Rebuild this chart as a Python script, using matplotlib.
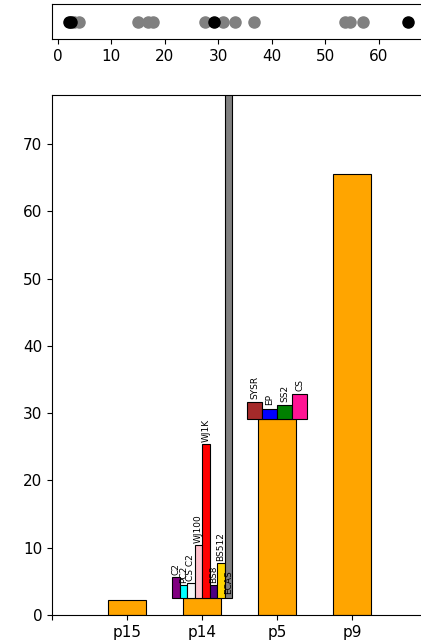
import numpy as np
import matplotlib
matplotlib.use("Agg")
import matplotlib.pyplot as plt

# main bars
categories = ['', 'p15', 'p14', 'p5', 'p9']
main_values = [2.2, 2.5, 29.1, 65.5]

# sub bars on top of p14
p14_labels = ['C2', 'PC2', 'CS C2', 'WJ100', 'WJ1K', 'BS8', 'BS512', 'ECAS']
p14_values = [3.1, 2.0, 2.3, 7.9, 22.9, 2.0, 5.2, 100.0]
p14_colors = ['purple', 'cyan', 'whitesmoke', 'pink', 'red', 'indigo', 'gold', 'gray']

# sub bars on top of p5
p5_labels = ['SYSR', 'EP', 'SS2', 'CS']
p5_values = [2.5, 1.6, 2.1, 3.7]
p5_colors = ['brown', 'blue', 'green', 'deeppink']

# strip values
gray_pts = [3.0, 4.0, 15.0, 16.9, 17.8, 27.5, 30.9, 33.1, 36.7, 53.7, 54.6, 57.0]
black_pts = [2.2, 2.5, 29.1, 65.5]

fig = plt.figure(figsize=(4.21, 6.42), dpi=100)

# strip on top
ax0 = fig.add_axes([0.1235, 0.939, 0.891, 0.0545])
ax0.scatter(gray_pts, np.zeros(len(gray_pts)), s=64, color='gray', zorder=2)
ax0.scatter(black_pts, np.zeros(len(black_pts)), s=64, color='black', zorder=3)
ax0.set_xlim(-1.07, 69.0)
ax0.set_ylim(-1, 1)
ax0.set_yticks([])
ax0.tick_params(axis='x', labelsize=11)

# main axes
ax = fig.add_axes([0.1235, 0.042, 0.891, 0.81])
pos = np.arange(1, 5)
ax.bar(pos, main_values, 0.5, color='orange', edgecolor='black', linewidth=0.8)

w14 = 0.1
x14 = 2 - 0.4 + w14 / 2 + np.arange(len(p14_values)) * w14
base14 = main_values[1]
ax.bar(x14, p14_values, w14, bottom=base14, color=p14_colors,
       edgecolor='black', linewidth=0.8)
for i, (xx, v, lab) in enumerate(zip(x14, p14_values, p14_labels)):
    y = base14 + v + 0.3
    if lab == 'ECAS':
        y = base14 + 0.7
    ax.text(xx, y, lab, rotation=90, ha='center', va='bottom', fontsize=6.5)

w5 = 0.2
x5 = 3 - 0.4 + w5 / 2 + np.arange(len(p5_values)) * w5
base5 = main_values[2]
ax.bar(x5, p5_values, w5, bottom=base5, color=p5_colors,
       edgecolor='black', linewidth=0.8)
for xx, v, lab in zip(x5, p5_values, p5_labels):
    ax.text(xx, base5 + v + 0.5, lab, rotation=90, ha='center', va='bottom', fontsize=6.5)

ax.set_xlim(0, 5)
ax.set_ylim(0, 77.3)
ax.set_xticks(range(5))
ax.set_xticklabels(categories)
ax.tick_params(labelsize=11)

fig.savefig("out.png", dpi=100)
